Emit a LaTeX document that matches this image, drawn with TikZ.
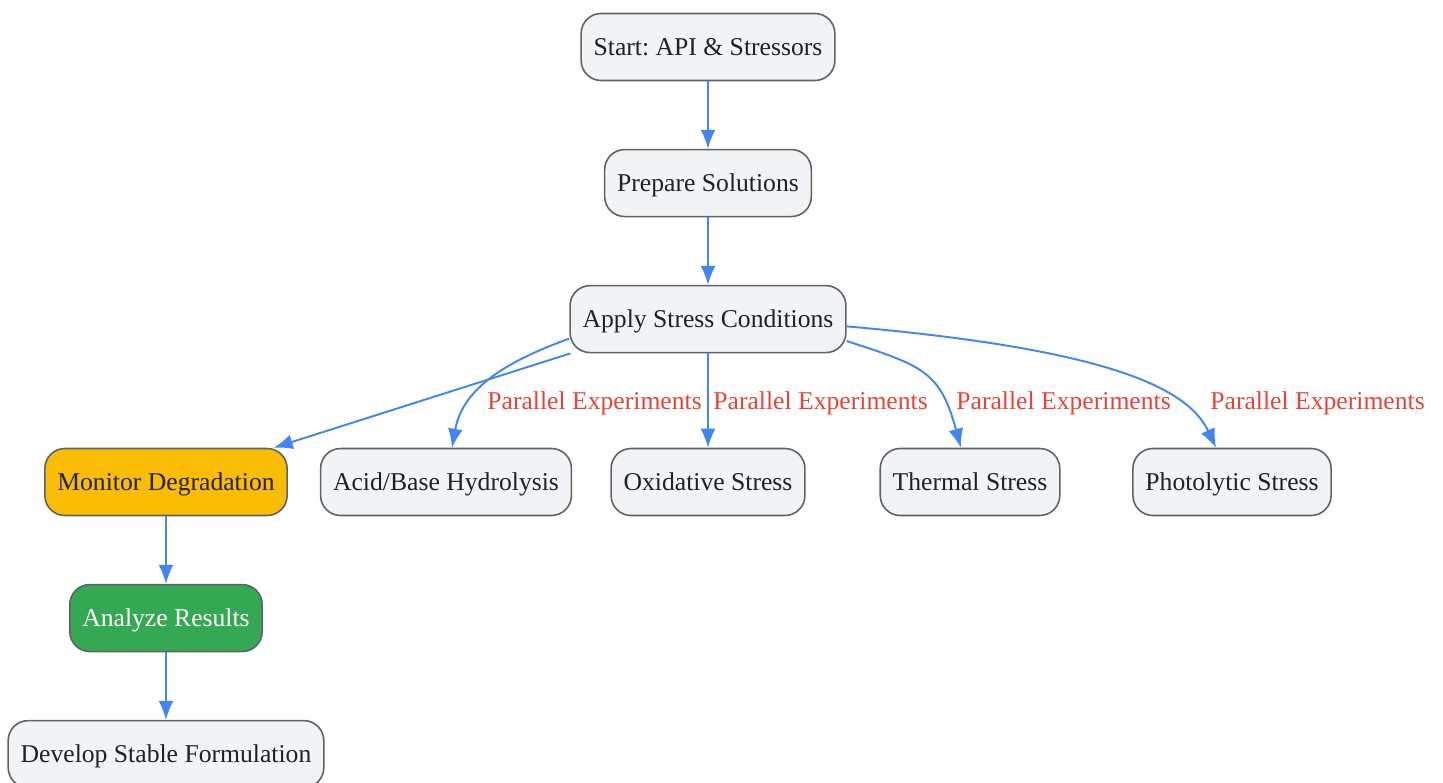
\documentclass[tikz,border=0pt]{standalone}
\usepackage{fontspec}
\setmainfont{Liberation Serif}
\usetikzlibrary{arrows.meta,positioning}
\definecolor{boxfill}{HTML}{F1F3F4}
\definecolor{boxline}{HTML}{5F6368}
\definecolor{boxtext}{HTML}{202124}
\definecolor{flowblue}{HTML}{4285F4}
\definecolor{lblred}{HTML}{EA4335}
\definecolor{monyellow}{HTML}{FBBC04}
\definecolor{resgreen}{HTML}{34A853}
\tikzset{
    %Define standard arrow tip
    >={Latex[length=0.38cm,width=0.3cm]},
    stepbox/.style={
      rectangle,
      rounded corners=0.4cm,
      draw=boxline, line width=0.9pt,
      fill=boxfill,
      text=boxtext,
      font=\fontsize{14.6}{17}\selectfont\frenchspacing,
      inner xsep=0.25cm,
      text height=11.5pt, text depth=1.5pt,
      minimum height=1.34cm,
      text centered},
    monitorbox/.style={
      stepbox,
      fill=monyellow},
    resultbox/.style={
      stepbox,
      fill=resgreen,
      text=white},
    flow/.style={
      draw=flowblue, line width=1.1pt},
    lbl/.style={
      text=lblred,
      font=\fontsize{14.6}{17}\selectfont,
      inner sep=0pt, anchor=west},
}

\begin{document}
\begin{tikzpicture}[x=0.02cm,y=0.02cm,node distance=1.35cm]
    \useasboundingbox (0,0) rectangle (1443,-783);
    \node (start) [stepbox] at (708,-47)
          {Start: API \& Stressors};
    \node (prep) [stepbox] [below=of start]
          {Prepare Solutions}
          edge [<-,flow] (start);
    \node (apply) [stepbox] [below=of prep]
          {Apply Stress Conditions}
          edge [<-,flow] (prep);
    % parallel branches
    \node (monitor) [monitorbox] at (166,-482)
          {Monitor Degradation}
          edge [<-,flow] (apply.194);
    \node (acid) [stepbox] at (446,-482)
          {Acid/Base Hydrolysis}
          edge [<-,flow,out=80,in=200] (apply.188);
    \node (oxid) [stepbox] at (708,-482)
          {Oxidative Stress}
          edge [<-,flow] (apply);
    \node (thermal) [stepbox] at (970,-482)
          {Thermal Stress}
          edge [<-,flow,out=105,in=-18,looseness=1.3] (apply.-9);
    \node (photo) [stepbox] at (1232,-482)
          {Photolytic Stress}
          edge [<-,flow,out=115,in=-5,out distance=1.4cm,in distance=5cm] (apply.-3);
    \node (lblacid) [lbl] at (487,-403) {Parallel Experiments};
    \node (lbloxid) [lbl] at (713,-403) {Parallel Experiments};
    \node (lbltherm) [lbl] at (956,-403) {Parallel Experiments};
    \node (lblphoto) [lbl] at (1210,-403) {Parallel Experiments};
    % follow-up
    \node (analyze) [resultbox] [below=of monitor]
          {Analyze Results}
          edge [<-,flow] (monitor);
    \node (develop) [stepbox] [below=of analyze]
          {Develop Stable Formulation}
          edge [<-,flow] (analyze);
\end{tikzpicture}
\end{document}
